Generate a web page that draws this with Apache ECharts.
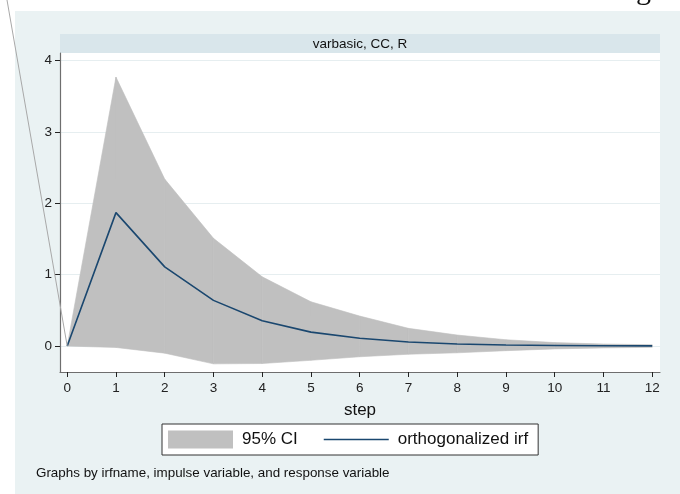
<!DOCTYPE html>
<html><head><meta charset="utf-8">
<script src="https://cdn.jsdelivr.net/npm/echarts@6/dist/echarts.min.js"></script>
<style>html,body{margin:0;padding:0;background:#fff}#c{width:680px;height:494px}</style>
</head><body><div id="c"></div>
<script>
const steps = [0,1,2,3,4,5,6,7,8,9,10,11,12];
const irf   = [0, 1.87, 1.11, 0.64, 0.355, 0.195, 0.11, 0.057, 0.029, 0.015, 0.008, 0.004, 0.002];
const upper = [0, 3.77, 2.34, 1.51, 0.97, 0.62, 0.42, 0.248, 0.154, 0.088, 0.048, 0.028, 0.018];
const lower = [0, -0.02, -0.10, -0.25, -0.245, -0.20, -0.15, -0.115, -0.095, -0.065, -0.04, -0.026, -0.018];
const xTicks = [0,1,2,3,4,5,6,7,8,9,10,11,12];
const yTicks = [0,1,2,3,4];
const panelTitle = 'varbasic, CC, R';
const xTitle = 'step';
const noteText = 'Graphs by irfname, impulse variable, and response variable';

const FONT = '"Liberation Sans", Arial, sans-serif';
const CI_COLOR = '#c0c0c0';
const LINE_COLOR = '#1a476f';
const chart = echarts.init(document.getElementById('c'), null, {renderer:'canvas'});

const bandData = steps.map((s,i)=>[s, lower[i], upper[i]]);
const irfData = steps.map((s,i)=>[s, irf[i]]);

chart.setOption({
  backgroundColor: '#eaf2f3',
  animation: false,
  grid: {left: 60, top: 53, right: 20, bottom: 122, show: true, backgroundColor: '#ffffff', borderWidth: 0},
  xAxis: {
    type: 'value', min: -0.148, max: 12.16,
    name: xTitle, nameLocation: 'middle', nameGap: 30,
    nameTextStyle: {fontFamily: FONT, fontSize: 17, color: '#111'},
    axisLine: {show: true, onZero: false, lineStyle: {color: '#6e6e6e', width: 1.2}},
    axisTick: {show: true, length: 5, customValues: xTicks, lineStyle: {color: '#222', width: 1}},
    axisLabel: {customValues: xTicks, margin: 9, fontFamily: FONT, fontSize: 13.5, color: '#222'},
    splitLine: {show: false}
  },
  yAxis: {
    type: 'value', min: -0.364, max: 4.108,
    axisLine: {show: true, onZero: false, lineStyle: {color: '#6e6e6e', width: 1.2}},
    axisTick: {show: true, length: 5, customValues: yTicks, lineStyle: {color: '#222', width: 1}},
    axisLabel: {customValues: yTicks, margin: 8, fontFamily: FONT, fontSize: 13.5, color: '#222'},
    splitLine: {show: true, lineStyle: {color: '#e6eef0', width: 1}}
  },
  legend: {
    left: 162, top: 424,
    padding: [6.5, 10, 6.5, 6],
    backgroundColor: '#ffffff', borderColor: '#333', borderWidth: 1, borderRadius: 0,
    itemWidth: 65, itemHeight: 18, itemGap: 26,
    textStyle: {fontFamily: FONT, fontSize: 17, color: '#111', padding: [0,0,0,4]},
    selectedMode: false,
    data: [
      {name: '95% CI', icon: 'rect', itemStyle: {color: CI_COLOR, borderWidth: 0}},
      {name: 'orthogonalized irf', icon: 'path://M0 0H65V1.6H0Z', itemStyle: {color: LINE_COLOR, borderWidth: 0}}
    ]
  },
  series: [
    {name: '95% CI', type: 'custom', data: bandData, itemStyle: {color: CI_COLOR}, silent: true,
     encode: {x: 0, y: [1, 2]},
     renderItem: function (params, api) {
       const i = params.dataIndex;
       if (i >= steps.length - 1) return null;
       const a = api.coord([steps[i], lower[i]]);
       const b = api.coord([steps[i+1], lower[i+1]]);
       const c = api.coord([steps[i+1], upper[i+1]]);
       const d = api.coord([steps[i], upper[i]]);
       return {type: 'polygon', shape: {points: [a, b, c, d]},
               style: {fill: CI_COLOR, stroke: CI_COLOR, lineWidth: 0.6}};
     }},
    {name: 'orthogonalized irf', type: 'line', data: irfData, symbol: 'none',
     lineStyle: {color: LINE_COLOR, width: 1.6}, itemStyle: {color: LINE_COLOR}, z: 5}
  ]
});

const p0 = chart.convertToPixel({gridIndex: 0}, [steps[0], irf[0]]);
chart.setOption({
  graphic: [
    {type: 'rect', shape: {x: 0, y: 0, width: 680, height: 11}, style: {fill: '#ffffff'}, silent: true},
    {type: 'rect', shape: {x: 0, y: 0, width: 15, height: 494}, style: {fill: '#ffffff'}, silent: true},
    {type: 'text', x: 636, y: -24, style: {text: 'g', fontFamily: '"Liberation Serif", serif', fontSize: 30, fill: '#111', textVerticalAlign: 'top'}, silent: true},
    {type: 'rect', shape: {x: 60, y: 34, width: 600, height: 19}, style: {fill: '#d9e6eb'}, silent: true},
    {type: 'text', x: 360, y: 44, style: {text: panelTitle, fontFamily: FONT, fontSize: 13.5, fill: '#111', textAlign: 'center', textVerticalAlign: 'middle'}, silent: true},
    {type: 'text', x: 36, y: 473, style: {text: noteText, fontFamily: FONT, fontSize: 13.4, fill: '#111', textAlign: 'left', textVerticalAlign: 'middle'}, silent: true},
    {type: 'line', shape: {x1: 7, y1: 0, x2: p0[0], y2: p0[1]}, style: {stroke: '#a8a8a8', lineWidth: 1}, z: 10, silent: true}
  ]
});
</script></body></html>
